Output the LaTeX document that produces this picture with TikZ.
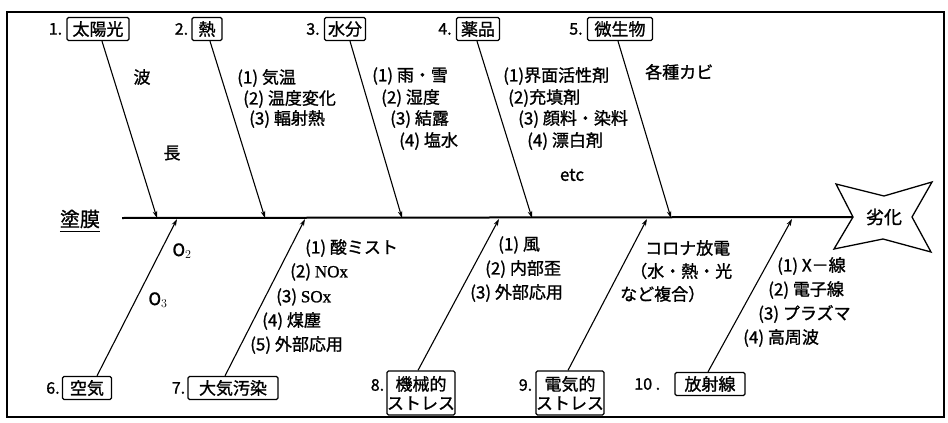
\documentclass[tikz,border=0pt]{standalone}
\usepackage{fontspec}
\setmainfont{Noto Sans CJK JP}[FakeBold=1.2]
\newfontfamily\serifl{Liberation Serif}[FakeBold=1.2]
\usetikzlibrary{arrows.meta}
\begin{document}
\begin{tikzpicture}[x=1pt,y=-1pt,
  box/.style={draw,line width=1.3pt,rounded corners=1.5pt,inner sep=0pt,minimum height=23pt,align=center,font=\fontsize{17}{19}\selectfont},
  box2/.style={box,minimum height=44pt},
  num/.style={anchor=east,inner sep=0pt,font=\fontsize{16}{18}\selectfont},
  lst/.style={anchor=west,inner sep=0pt,font=\fontsize{17}{19}\selectfont},
  lbl/.style={inner sep=0pt,font=\fontsize{17}{19}\selectfont},
  bone/.style={line width=1.1pt,-{Stealth[length=7pt,width=4.5pt]}},
  spine/.style={line width=2pt},
]
\useasboundingbox (0,0) rectangle (948,423);
\fill[white] (0,0) rectangle (948,423);
% frame
\draw[line width=1.2pt] (7,12) rectangle (944,417);
\draw[line width=2pt] (7,12) -- (944,12);

% spine coordinates
\coordinate (head) at (122,218);
\coordinate (starL) at (853,217);
\coordinate (s1) at (157,218);
\coordinate (s2) at (265,218);
\coordinate (s3) at (402,218);
\coordinate (s4) at (532,218);
\coordinate (s5) at (671,218);
\coordinate (s6) at (177,219);
\coordinate (s7) at (305,219);
\coordinate (s8) at (499,219);
\coordinate (s9) at (647,219);
\coordinate (s10) at (792,219);

% title
\node[inner sep=0pt,font=\fontsize{20}{22}\selectfont] (tm) at (80,219) {塗膜};
\draw[line width=1pt] ([yshift=-3pt]tm.south west) -- ([yshift=-3pt]tm.south east);

% spine
\draw[spine] (head) -- (starL);

% star
\draw[line width=1.3pt,line join=miter] (836,184) -- (884,196) -- (932,182) -- (912,217) -- (931,252) -- (883,239) -- (834,249) -- (starL) -- cycle;
\node[inner sep=0pt,font=\fontsize{18}{20}\selectfont] (deg) at (884,217) {劣化};

% top boxes
\node[box,minimum width=62pt] (b1) at (98,29) {太陽光};
\node[num] (n1) at ([xshift=-4pt]b1.west) {1.};
\node[box,minimum width=30pt] (b2) at (207,29) {熱};
\node[num] (n2) at ([xshift=-3pt]b2.west) {2.};
\node[box,minimum width=41pt] (b3) at (345,29) {水分};
\node[num] (n3) at ([xshift=-4pt]b3.west) {3.};
\node[box,minimum width=43pt] (b4) at (478,29) {薬品};
\node[num] (n4) at ([xshift=-4pt]b4.west) {4.};
\node[box,minimum width=65pt] (b5) at (620,29) {微生物};
\node[num] (n5) at ([xshift=-4pt]b5.west) {5.};

% bottom boxes
\node[box,minimum width=49pt] (b6) at (87,388) {空気};
\node[num] (n6) at ([xshift=-2pt]b6.west) {6.};
\node[box,minimum width=90pt] (b7) at (233,388) {大気汚染};
\node[num] (n7) at ([xshift=-2pt]b7.west) {7.};
\node[box2,minimum width=62pt] (b8) at (421,393) {機械的\\ストレス};
\node[num] (n8) at ([xshift=-2pt,yshift=8pt]b8.west) {8.};
\node[box2,minimum width=63pt] (b9) at (570,393) {電気的\\ストレス};
\node[num] (n9) at ([xshift=-3pt,yshift=8pt]b9.west) {9.};
\node[box,minimum width=70pt] (b10) at (710,384) {放射線};
\node[num] (n10) at ([xshift=-14pt]b10.west) {10 .};

% bones
\draw[bone] ([xshift=4pt]b1.south) -- (s1);
\draw[bone] ([xshift=3pt]b2.south) -- (s2);
\draw[bone] ([xshift=5pt]b3.south) -- (s3);
\draw[bone] ([xshift=-1pt]b4.south) -- (s4);
\draw[bone] ([xshift=-2pt]b5.south) -- (s5);
\draw[bone] ([xshift=10pt]b6.north) -- (s6);
\draw[bone] ([xshift=-8pt]b7.north) -- (s7);
\draw[bone] ([xshift=-3pt]b8.north) -- (s8);
\draw[bone] ([xshift=-2pt]b9.north) -- (s9);
\draw[bone] ([xshift=-2pt]b10.north) -- (s10);

% 1 sunlight
\node[lbl] (t1a) at (142,77) {波};
\node[lbl] (t1b) at (172,153) {長};
% 2 heat
\node[lst] (t2a) at (237,78) {(1) 気温};
\node[lst] (t2b) at (243,99) {(2) 温度変化};
\node[lst] (t2c) at (249,119) {(3) 輻射熱};
% 3 water
\node[lst] (t3a) at (372,76) {(1) 雨・雪};
\node[lst] (t3b) at (381,98) {(2) 湿度};
\node[lst] (t3c) at (390,119) {(3) 結露};
\node[lst] (t3d) at (399,141) {(4) 塩水};
% 4 chemicals
\node[lst] (t4a) at (503,76) {(1)界面活性剤};
\node[lst] (t4b) at (508,98) {(2)充填剤};
\node[lst] (t4c) at (518,119) {(3) 顔料・染料};
\node[lst] (t4d) at (527,141) {(4) 漂白剤};
\node[lbl] (t4e) at (572,175) {etc};
% 5 microbes
\node[lst] (t5a) at (645,72) {各種カビ};
% 6 air
\node[lbl] (t6a) at (182,251) {O$_2$};
\node[lbl] (t6b) at (158,300) {O$_3$};
% 7 pollution
\node[lst] (t7a) at (305,248) {(1) 酸ミスト};
\node[lst] (t7b) at (290,272) {(2) {\serifl NOx}};
\node[lst] (t7c) at (276,297) {(3) {\serifl SOx}};
\node[lst] (t7d) at (262,321) {(4) 煤塵};
\node[lst] (t7e) at (250,345) {(5) 外部応用};
% 8 mechanical
\node[lst] (t8a) at (498,245) {(1) 風};
\node[lst] (t8b) at (485,269) {(2) 内部歪};
\node[lst] (t8c) at (470,293) {(3) 外部応用};
% 9 electrical
\node[lst] (t9a) at (645,248) {コロナ放電};
\node[lst] (t9b) at (630,271) {（水・熱・光};
\node[lst] (t9c) at (620,294) {など複合）};
% 10 radiation
\node[lst] (t10a) at (777,266) {(1) X－線};
\node[lst] (t10b) at (768,290) {(2) 電子線};
\node[lst] (t10c) at (758,314) {(3) プラズマ};
\node[lst] (t10d) at (743,338) {(4) 高周波};
\end{tikzpicture}
\end{document}
